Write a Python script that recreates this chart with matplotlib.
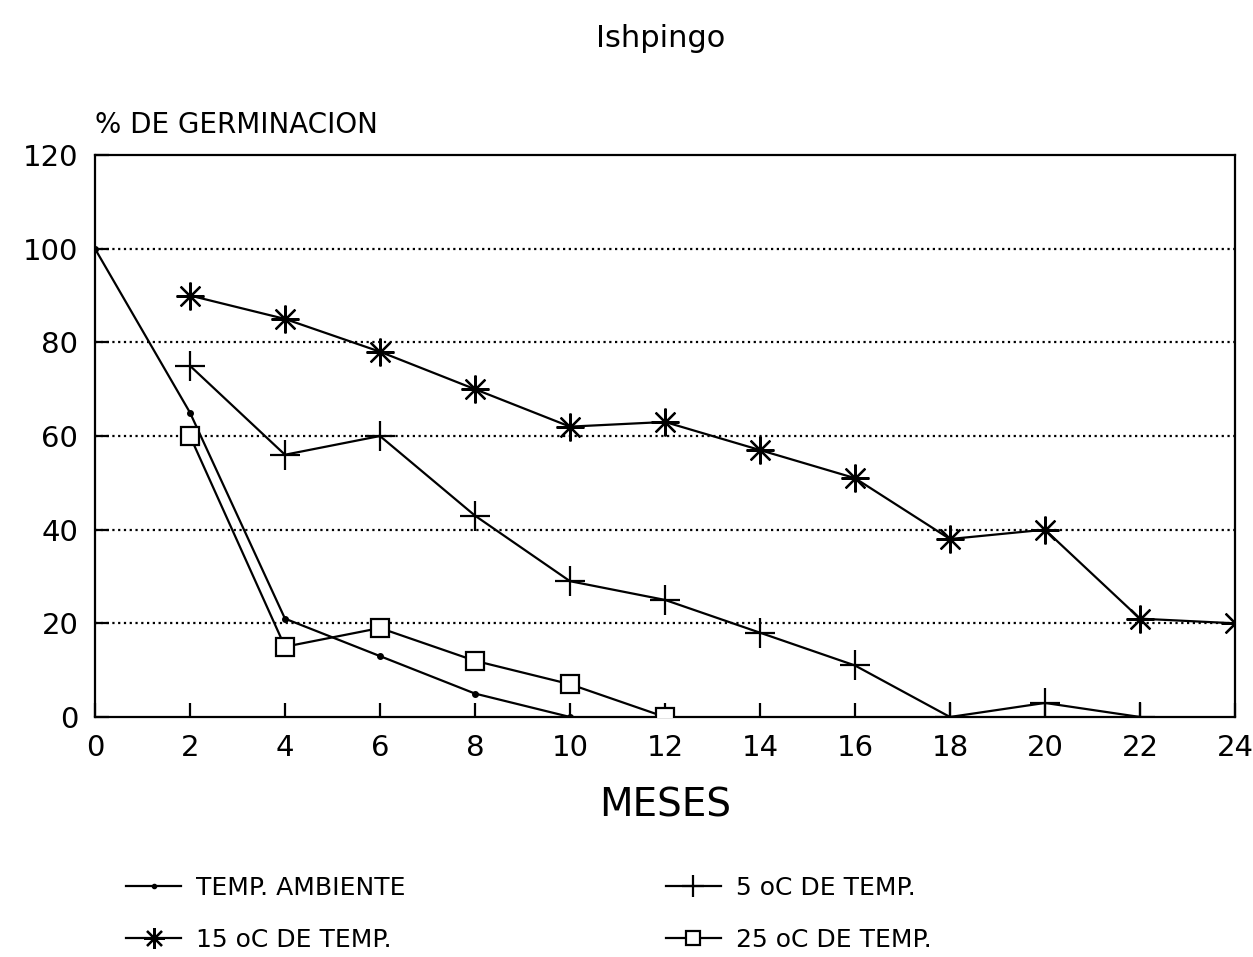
import matplotlib
matplotlib.use("Agg")
import matplotlib.pyplot as plt

# months and % germination
x_amb = [0, 2, 4, 6, 8, 10]
y_amb = [100, 65, 21, 13, 5, 0]

x_15 = [2, 4, 6, 8, 10, 12, 14, 16, 18, 20, 22, 24]
y_15 = [90, 85, 78, 70, 62, 63, 57, 51, 38, 40, 21, 20]

x_5 = [2, 4, 6, 8, 10, 12, 14, 16, 18, 20, 22]
y_5 = [75, 56, 60, 43, 29, 25, 18, 11, 0, 3, 0]

x_25 = [2, 4, 6, 8, 10, 12]
y_25 = [60, 15, 19, 12, 7, 0]

xticks = list(range(0, 25, 2))
yticks = [0, 20, 40, 60, 80, 100, 120]

plt.rcParams['font.family'] = ['DejaVu Sans']

fig = plt.figure(figsize=(12.53, 9.57), dpi=100)
ax = fig.add_axes([0.0758, 0.2508, 0.9098, 0.5872])

for yv in yticks[1:-1]:
    ax.axhline(yv, color='black', lw=1.6, ls=(0, (1, 1.6)), zorder=1)

l1, = ax.plot(x_amb, y_amb, color='black', lw=1.6, marker='o', ms=4,
              label='TEMP. AMBIENTE', zorder=3)
l3, = ax.plot(x_15, y_15, color='black', lw=1.6, marker=(8, 2, 0), ms=20,
              mew=1.6, label='15 oC DE TEMP.', zorder=3)
l2, = ax.plot(x_5, y_5, color='black', lw=1.6, marker='+', ms=22,
              mew=1.6, label='5 oC DE TEMP.', zorder=3)
l4, = ax.plot(x_25, y_25, color='black', lw=1.6, marker='s', ms=13,
              mfc='white', mew=1.6, label='25 oC DE TEMP.', zorder=4)

ax.set_xlim(0, 24)
ax.set_ylim(0, 120)
ax.set_xticks(xticks)
ax.set_yticks(yticks)
ax.tick_params(direction='in', length=10, width=1.6, labelsize=21, pad=12)
for s in ax.spines.values():
    s.set_linewidth(1.6)

ax.set_xlabel('MESES', fontsize=28, labelpad=18)
fig.text(0.0758, 0.855, '% DE GERMINACION', fontsize=20, ha='left', va='bottom')
fig.text(0.527, 0.945, 'Ishpingo', fontsize=22, ha='center', va='bottom')

fig.legend(handles=[l1, l3, l2, l4], ncol=2, frameon=False, fontsize=18,
           loc='lower left', bbox_to_anchor=(0.083, -0.018), columnspacing=10.4,
           handlelength=2.2, handletextpad=0.6, labelspacing=1.1, markerscale=0.75)

fig.savefig('out.png', dpi=100)
